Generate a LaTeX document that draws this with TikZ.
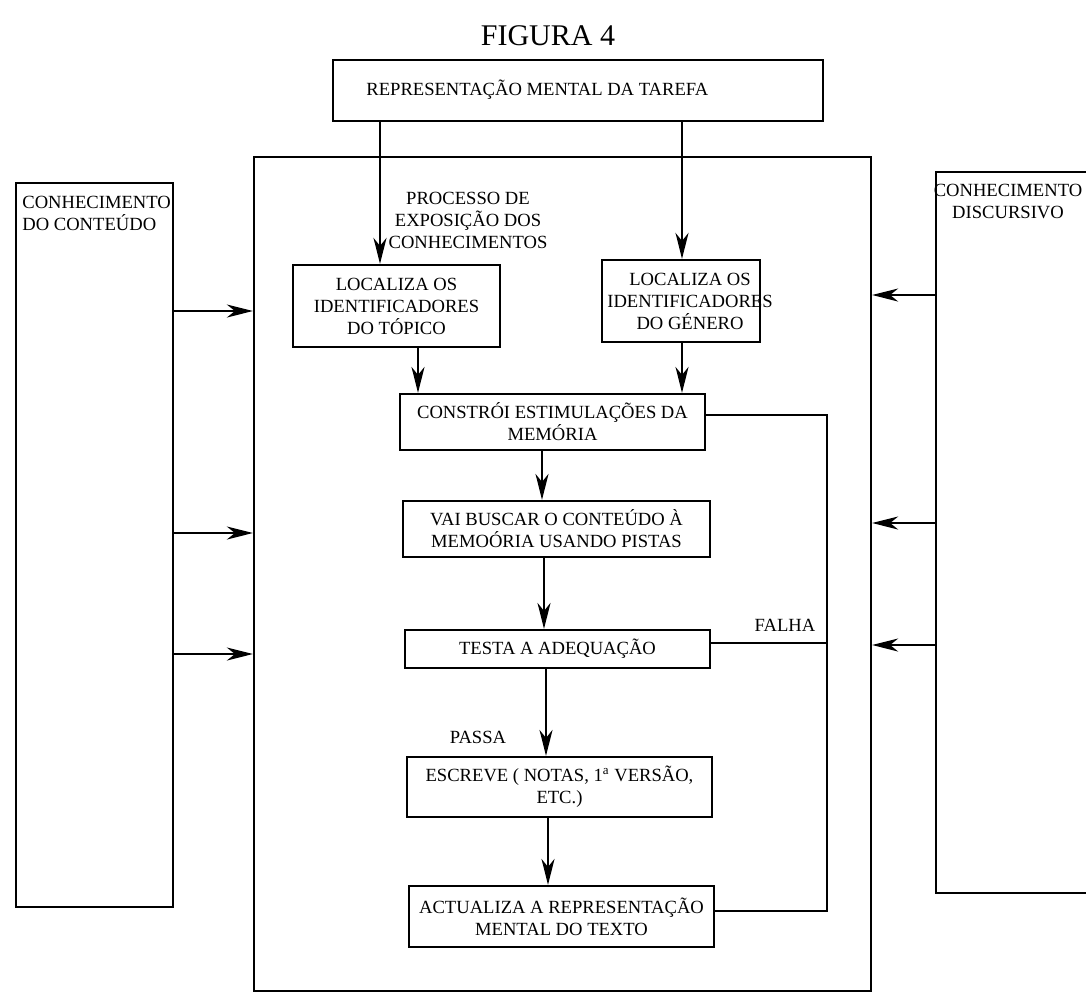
\documentclass[tikz,border=0pt]{standalone}
\usepackage{fontspec}
\setmainfont{Liberation Serif}
\usetikzlibrary{arrows.meta}
\begin{document}
\begin{tikzpicture}[x=0.5pt,y=-0.5pt,
  every node/.style={font=\fontsize{9.3}{11}\selectfont, inner sep=0pt},
  frame/.style={draw, line width=1.1pt},
  stepbox/.style={draw, line width=1.1pt, align=center},
  arr/.style={line width=1.1pt, -{Stealth[length=13pt,width=6.5pt,inset=4pt]}},
  link/.style={line width=1.1pt}]
\useasboundingbox (0,0) rectangle (1086,993);

% title
\node[font=\fontsize{15}{18}\selectfont] (title) at (548,36) {FIGURA 4};

% task representation at the top
\node[stepbox, minimum width=245pt, minimum height=30.5pt] (task) at (578,90.5) {};
\node[anchor=west] (tasktxt) at (366,90) {REPRESENTAÇÃO MENTAL DA TAREFA};

% outer frames
\node[frame, minimum width=308.5pt, minimum height=417pt] (proc) at (562.5,574) {};
\node[frame, minimum width=78.5pt, minimum height=362pt] (cont) at (94.5,545) {};
\node[frame, minimum width=97pt, minimum height=360.5pt] (disc) at (1033,532.5) {};

\node[align=left, anchor=north west] (contlbl) at (22,196) {CONHECIMENTO\\DO CONTEÚDO};
\node[align=center, anchor=north] (disclbl) at (1008,184) {CONHECIMENTO\\DISCURSIVO};
\node[align=center] (proclbl) at (468,220) {PROCESSO DE\\EXPOSIÇÃO DOS\\CONHECIMENTOS};

% process steps
\node[stepbox, minimum width=103.5pt, minimum height=41pt] (locL) at (396.5,306)
  {LOCALIZA OS\\IDENTIFICADORES\\DO TÓPICO};
\node[stepbox, minimum width=79pt, minimum height=41pt] (locR) at (681,301) {};
\node[align=center] (locRtxt) at (690,301) {LOCALIZA OS\\IDENTIFICADORES\\DO GÉNERO};
\node[stepbox, minimum width=152.5pt, minimum height=28pt] (constroi) at (552.5,422)
  {CONSTRÓI ESTIMULAÇÕES DA\\MEMÓRIA};
\node[stepbox, minimum width=153.5pt, minimum height=28pt] (vai) at (556.5,529)
  {VAI BUSCAR O CONTEÚDO À\\MEMOÓRIA USANDO PISTAS};
\node[stepbox, minimum width=152.5pt, minimum height=19pt] (testa) at (557.5,649)
  {TESTA A ADEQUAÇÃO};
\node[stepbox, minimum width=152.5pt, minimum height=30pt] (escreve) at (559.5,787)
  {ESCREVE ( NOTAS, 1\textsuperscript{a} VERSÃO,\\ETC.)};
\node[stepbox, minimum width=152.5pt, minimum height=30.5pt] (actual) at (561.5,916.5)
  {ACTUALIZA A REPRESENTAÇÃO\\MENTAL DO TEXTO};

\node (falha) at (785,625) {FALHA};
\node (passa) at (478,737) {PASSA};

% reference points for connectors
\coordinate (xt) at (380,0);
\coordinate (xa) at (418,0);
\coordinate (xb) at (682,0);
\coordinate (xc) at (542,0);
\coordinate (xd) at (544,0);
\coordinate (xe) at (546,0);
\coordinate (xf) at (548,0);
\coordinate (lt) at (827,415);
\coordinate (lm) at (827,643);
\coordinate (lb) at (827,911);
\coordinate (ya) at (0,311);
\coordinate (yb) at (0,533);
\coordinate (yc) at (0,654);
\coordinate (yd) at (0,295);
\coordinate (ye) at (0,523);
\coordinate (yf) at (0,645);

% main flow
\draw[arr] (task.south -| xt) -- (locL.north -| xt);
\draw[arr] (task.south -| xb) -- (locR.north -| xb);
\draw[arr] (locL.south -| xa) -- (constroi.north -| xa);
\draw[arr] (locR.south -| xb) -- (constroi.north -| xb);
\draw[arr] (constroi.south -| xc) -- (vai.north -| xc);
\draw[arr] (vai.south -| xd) -- (testa.north -| xd);
\draw[arr] (testa.south -| xe) -- (escreve.north -| xe);
\draw[arr] (escreve.south -| xf) -- (actual.north -| xf);

% feedback loop
\draw[link] (constroi.east |- lt) -- (lt) -- (lb) -- (actual.east |- lb);
\draw[link] (testa.east |- lm) -- (lm);

% knowledge sources feeding the process
\draw[arr] (cont.east |- ya) -- (proc.west |- ya);
\draw[arr] (cont.east |- yb) -- (proc.west |- yb);
\draw[arr] (cont.east |- yc) -- (proc.west |- yc);
\draw[arr] (disc.west |- yd) -- (proc.east |- yd);
\draw[arr] (disc.west |- ye) -- (proc.east |- ye);
\draw[arr] (disc.west |- yf) -- (proc.east |- yf);
\end{tikzpicture}
\end{document}
